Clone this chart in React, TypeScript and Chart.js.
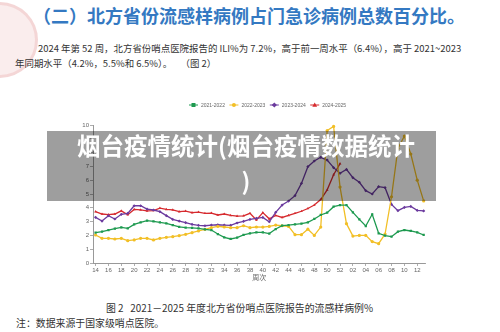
import React, { useEffect, useRef } from 'react';
import { Chart, registerables } from 'chart.js';

Chart.register(...registerables);

// ---- data ----
const weekLabels = [
  '14', '15', '16', '17', '18', '19', '20', '21', '22', '23', '24', '25', '26',
  '27', '28', '29', '30', '31', '32', '33', '34', '35', '36', '37', '38', '39',
  '40', '41', '42', '43', '44', '45', '46', '47', '48', '49', '50', '51', '52',
  '01', '02', '03', '04', '05', '06', '07', '08', '09', '10', '11', '12', '13',
];

const seasons = ['2021-2022', '2022-2023', '2023-2024', '2024-2025'];

const season2122 = [
  2.2, 2.27, 2.39, 2.49, 2.58, 2.51, 2.8, 2.94, 3.07, 3.02, 2.94, 2.87, 2.75,
  2.61, 2.56, 2.54, 2.51, 2.44, 2.39, 2.1, 1.86, 1.74, 1.84, 2.03, 2.15,
  2.22, 2.22, 2.13, 2.46, 2.71, 2.75, 2.8, 2.85, 2.95, 3.19, 3.48, 3.65, 4.08,
  4.2, 4.2, 3.67, 3.16, 2.68, 3.53, 2.15, 1.98, 1.91, 2.27, 2.39, 2.32, 2.22, 2.03,
];

const season2223 = [
  2.03, 1.79, 1.79, 1.74, 1.79, 1.62, 1.67, 1.79, 1.79, 1.67, 1.79, 1.86, 1.91,
  1.98, 2.08, 2.2, 2.32, 2.44, 2.56, 2.66, 2.61, 2.56, 2.56, 2.7, 2.56, 2.61,
  2.6, 2.65, 2.75, 2.7, 2.65, 2.05, 2.05, 2.45, 2.0, 2.6, 9.6, 9.9, 5.5,
  2.85, 1.95, 2.0, 2.0, 1.55, 1.4, 2.1, 4.8, 8.3, 9.2, 7.9, 6.0, 4.5,
];

const season2324 = [
  3.31, 3.04, 3.43, 3.19, 3.53, 3.6, 4.15, 4.15, 3.91, 3.84, 3.72, 3.43, 3.16,
  3.04, 2.92, 2.8, 2.73, 2.7, 2.75, 2.77, 2.75, 2.73, 2.9, 3.02, 3.16, 3.24,
  3.3, 2.99, 3.67, 4.2, 4.49, 4.88, 5.77, 6.98, 7.39, 7.66, 7.46, 6.91, 6.5,
  6.78, 6.18, 5.85, 5.24, 5.0, 5.53, 5.46, 4.25, 3.79, 4.03, 4.1, 3.81, 3.77,
];

const season2425 = [
  3.72, 3.55, 3.5, 3.55, 3.78, 3.5, 3.88, 3.85, 3.78, 3.8, 3.98, 3.88, 3.85,
  3.72, 3.76, 3.65, 3.68, 3.6, 3.62, 3.48, 3.55, 3.45, 3.4, 3.42, 3.6, 3.12,
  3.65, 3.2, 3.45, 3.3, 3.45, 3.6, 3.75, 3.95, 4.2, 4.6, 5.3, 6.4, 7.2,
];

const seriesList = [season2122, season2223, season2324, season2425];
const seriesColors = ['#1e9a50', '#f2bf26', '#6b3a9e', '#d62a2e'];
const seriesMarkers = ['rect', 'circle', 'rectRot', 'triangle'];

const yMin = 0;
const yMax = 10;

function drawMarker(ctx: CanvasRenderingContext2D, style: string, x: number, y: number, r: number, color: string) {
  ctx.fillStyle = color;
  ctx.beginPath();
  if (style === 'rect') {
    ctx.rect(x - r, y - r, 2 * r, 2 * r);
  } else if (style === 'circle') {
    ctx.arc(x, y, r, 0, Math.PI * 2);
  } else if (style === 'rectRot') {
    ctx.moveTo(x, y - r * 1.3);
    ctx.lineTo(x + r * 1.3, y);
    ctx.lineTo(x, y + r * 1.3);
    ctx.lineTo(x - r * 1.3, y);
    ctx.closePath();
  } else {
    ctx.moveTo(x, y - r * 1.3);
    ctx.lineTo(x + r * 1.2, y + r * 0.9);
    ctx.lineTo(x - r * 1.2, y + r * 0.9);
    ctx.closePath();
  }
  ctx.fill();
}

const lineLegend = {
  id: 'lineLegend',
  afterDraw(chart: any) {
    const ctx = chart.ctx as CanvasRenderingContext2D;
    ctx.save();
    ctx.font = '5px "Liberation Sans", Arial, sans-serif';
    ctx.textBaseline = 'middle';
    let x = 129;
    const y = 10;
    chart.data.datasets.forEach((ds: any) => {
      ctx.strokeStyle = ds.borderColor;
      ctx.lineWidth = 1;
      ctx.beginPath();
      ctx.moveTo(x, y);
      ctx.lineTo(x + 9, y);
      ctx.stroke();
      drawMarker(ctx, ds.pointStyle, x + 4.5, y, 2, ds.borderColor);
      ctx.fillStyle = '#666';
      ctx.fillText(ds.label, x + 12, y + 0.3);
      x += 12 + ctx.measureText(ds.label).width + 4.5;
    });
    ctx.restore();
  },
};

function FluChart() {
  const ref = useRef<HTMLCanvasElement | null>(null);
  useEffect(() => {
    if (!ref.current) return;
    const tickIdx = weekLabels.map((_, i) => i).filter((i) => i % 2 === 0);
    const chart = new Chart(ref.current, {
      type: 'line',
      data: {
        datasets: seasons.map((s, k) => ({
          label: s,
          data: seriesList[k].map((v, i) => ({ x: i, y: v })),
          borderColor: seriesColors[k],
          backgroundColor: seriesColors[k],
          borderWidth: 1.3,
          pointStyle: seriesMarkers[k] as any,
          pointRadius: 1.6,
          pointBorderWidth: 0,
          tension: 0,
          clip: 4,
        })),
      },
      options: {
        animation: false,
        responsive: false,
        devicePixelRatio: 1,
        layout: { padding: { left: 0, right: 14.4, top: 30, bottom: 0 } },
        plugins: { legend: { display: false }, tooltip: { enabled: false } },
        scales: {
          x: {
            type: 'linear',
            min: -0.4,
            max: 51.3,
            afterBuildTicks: (s: any) => {
              s.ticks = tickIdx.map((v) => ({ value: v }));
            },
            afterFit: (s: any) => {
              s.height = 25;
            },
            ticks: {
              autoSkip: false,
              maxRotation: 0,
              padding: 1,
              color: '#666',
              font: { size: 6, family: '"Liberation Sans", Arial, sans-serif' },
              callback: (v: any) => weekLabels[Number(v)],
            },
            grid: { drawOnChartArea: false, tickLength: 3, color: '#999', lineWidth: 0.8 },
            border: { color: '#999', width: 1 },
            title: {
              display: true,
              text: '周次',
              color: '#666',
              font: { size: 7, family: '"Noto Sans CJK SC", sans-serif' },
              padding: { top: 0, bottom: 6 },
            },
          },
          y: {
            min: yMin,
            max: yMax,
            afterFit: (s: any) => {
              s.width = 33;
            },
            ticks: {
              stepSize: 1,
              padding: 1,
              color: '#666',
              font: { size: 6, family: '"Liberation Sans", Arial, sans-serif' },
            },
            grid: { drawOnChartArea: false, tickLength: 3, color: '#999', lineWidth: 0.8 },
            border: { color: '#999', width: 1 },
          },
        },
      },
      plugins: [lineLegend],
    });
    return () => chart.destroy();
  }, []);
  return (
    <canvas
      ref={ref}
      width={380}
      height={193}
      style={{ position: 'absolute', left: 60, top: 95, width: 380, height: 193 }}
    />
  );
}

const cjk = '"Noto Sans CJK SC", "Noto Sans", sans-serif';

export default function App() {
  return (
    <div
      style={{
        position: 'fixed',
        left: 0,
        top: 0,
        width: 500,
        height: 332,
        background: '#ffffff',
        overflow: 'hidden',
        fontFamily: cjk,
      }}
    >
      {/* decorative virus shape */}
      <div
        style={{
          position: 'absolute',
          left: -38,
          top: 2,
          width: 70,
          height: 70,
          borderRadius: '50%',
          background: 'rgba(225,140,140,0.16)',
          border: '3px solid rgba(215,110,110,0.18)',
        }}
      />
      <div
        style={{
          position: 'absolute',
          left: 33,
          top: 2,
          whiteSpace: 'nowrap',
          fontSize: 18,
          fontWeight: 700,
          color: '#3479c2',
          lineHeight: '26px',
        }}
      >
        （二）北方省份流感样病例占门急诊病例总数百分比。
      </div>
      <div
        style={{
          position: 'absolute',
          left: 38,
          top: 41,
          whiteSpace: 'pre',
          fontSize: 9.45,
          color: '#333',
          lineHeight: '14px',
        }}
      >
        2024 年第 52 周，北方省份哨点医院报告的 ILI%为 7.2%，高于前一周水平（6.4%），高于 2021~2023
      </div>
      <div
        style={{
          position: 'absolute',
          left: 15,
          top: 56,
          whiteSpace: 'pre',
          fontSize: 9.45,
          color: '#333',
          lineHeight: '14px',
        }}
      >
        年同期水平（4.2%，5.5%和 6.5%）。    （图 2）
      </div>

      <FluChart />

      <div
        style={{
          position: 'absolute',
          left: 47,
          top: 131,
          width: 389,
          height: 70,
          background: 'rgba(0,0,0,0.38)',
        }}
      />
      <div
        style={{
          position: 'absolute',
          left: 41,
          top: 131,
          width: 410,
          textAlign: 'center',
          color: '#ffffff',
          fontWeight: 700,
          fontSize: 23.5,
          lineHeight: '35px',
          marginTop: -3,
        }}
      >
        烟台疫情统计(烟台疫情数据统计
        <br />)
      </div>

      <div
        style={{
          position: 'absolute',
          left: 106,
          top: 301,
          whiteSpace: 'pre',
          fontSize: 9.9,
          color: '#333',
          lineHeight: '14px',
        }}
      >
        图 2   2021－2025 年度北方省份哨点医院报告的流感样病例%
      </div>
      <div
        style={{
          position: 'absolute',
          left: 16,
          top: 316,
          whiteSpace: 'pre',
          fontSize: 9.9,
          color: '#333',
          lineHeight: '14px',
        }}
      >
        注：数据来源于国家级哨点医院。
      </div>
    </div>
  );
}
